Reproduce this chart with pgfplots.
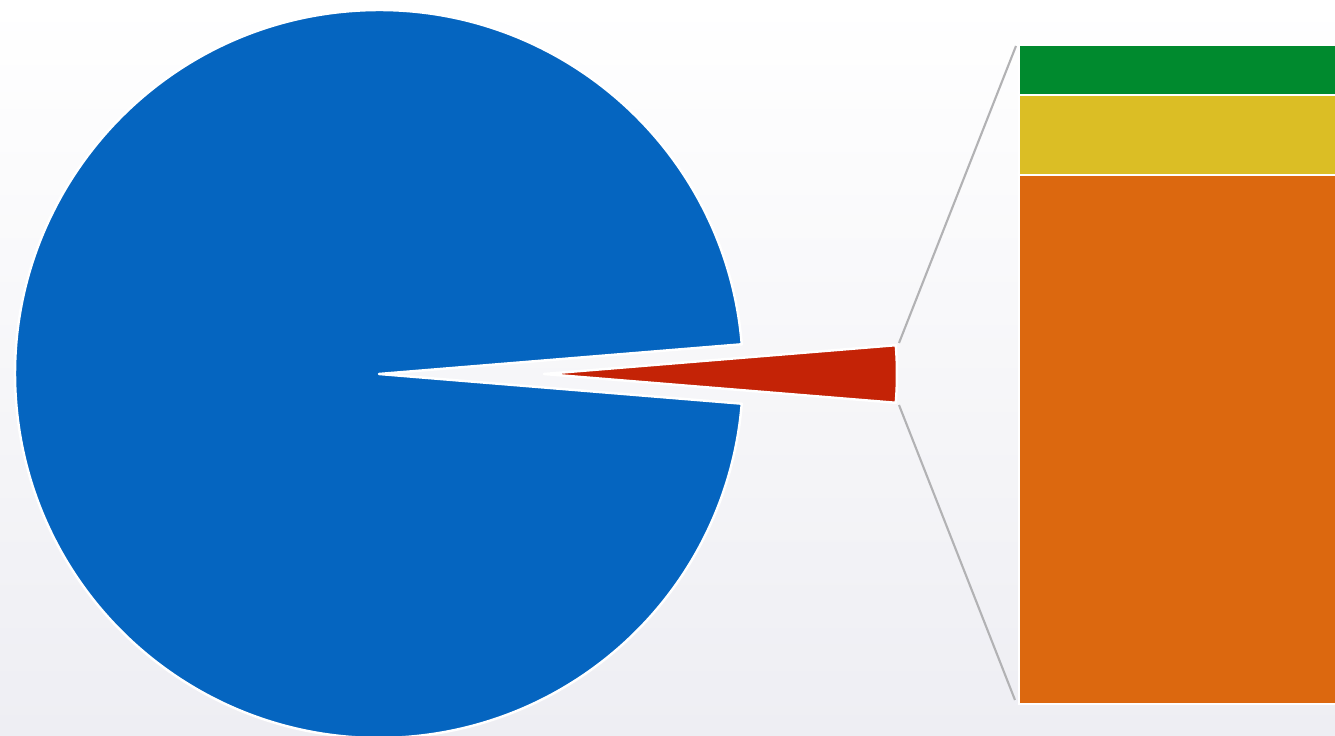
\documentclass[border=0pt]{standalone}
\usepackage{pgfplots}
\pgfplotsset{compat=1.18}
\definecolor{pieblue}{RGB}{5,101,192}
\definecolor{piered}{RGB}{196,35,6}
\definecolor{bargreen}{RGB}{0,138,46}
\definecolor{baryellow}{RGB}{219,190,37}
\definecolor{barorange}{RGB}{220,104,15}
\definecolor{bggray}{RGB}{238,238,243}
\definecolor{linegray}{RGB}{178,178,180}
% pie values (percent)
\def\bigval{97.4}
\def\smallval{2.6}
\begin{document}
\begin{tikzpicture}
\path[use as bounding box] (0,0) rectangle (13.35cm,7.36cm);
\clip (0,0) rectangle (13.35cm,7.36cm);
\shade[top color=white, bottom color=bggray] (0,0) rectangle (13.35cm,7.36cm);
% ---------- pie ----------
\begin{axis}[at={(0,0)}, anchor=south west, scale only axis,
  width=13.35cm, height=7.36cm, xmin=0, xmax=1335, ymin=0, ymax=736,
  hide axis, clip=false]
  \pgfmathsetmacro{\half}{\smallval*360/100/2}
  \pgfmathsetmacro{\bigend}{360-\half}
  \fill[pieblue, draw=white, line width=0.7pt, line join=round]
    (axis cs:379,362) -- ++(\half:3.64cm) arc[start angle=\half, end angle=\bigend, radius=3.64cm] -- cycle;
  \fill[piered, draw=white, line width=0.7pt, line join=round]
    (axis cs:544,362) -- ++(-\half:3.53cm) arc[start angle=-\half, end angle=\half, radius=3.53cm] -- cycle;
  \draw[linegray, line width=0.6pt] (axis cs:899,393) -- (axis cs:1016,690);
  \draw[linegray, line width=0.6pt] (axis cs:899,331) -- (axis cs:1015,36);
\end{axis}
% ---------- bar ----------
\begin{axis}[at={(10.19cm,0.32cm)}, anchor=south west, scale only axis,
  width=3.16cm, height=6.59cm, xmin=0, xmax=1, ymin=0, ymax=100,
  hide axis, clip=false, ybar stacked, bar width=2,
  every axis plot/.append style={draw=white, line width=0.7pt}]
  \addplot[fill=barorange, draw=white] coordinates {(1,80.3)};
  \addplot[fill=baryellow, draw=white] coordinates {(1,12.1)};
  \addplot[fill=bargreen, draw=white] coordinates {(1,7.6)};
\end{axis}
\end{tikzpicture}
\end{document}
